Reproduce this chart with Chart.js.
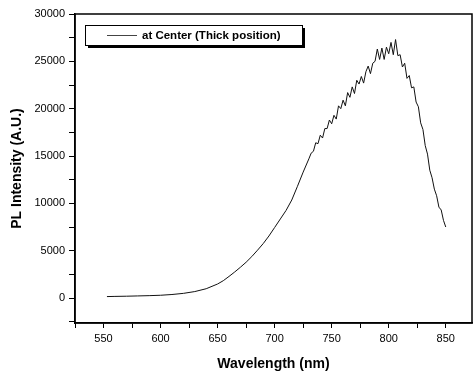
<!DOCTYPE html>
<html>
<head>
<meta charset="utf-8">
<script src="https://cdn.jsdelivr.net/npm/chart.js@4.4.0/dist/chart.umd.min.js"></script>
<style>
  html, body { margin: 0; padding: 0; background: #fff; }
  #wrap { width: 473px; height: 374px; }
</style>
</head>
<body>
<div id="wrap"><canvas id="plChart" width="473" height="374"></canvas></div>
<script>
/* =========================
   DATA
========================= */
const seriesLabel = "at Center (Thick position)";

const wavelength = [
  553, 560, 570, 580, 590, 600, 610, 620, 630, 640,
  650, 655, 660, 665, 670, 675, 680, 685, 690, 695,
  700, 705, 710, 715, 720, 725, 730,
  732, 734, 736, 738, 740, 742, 744, 746, 748, 750,
  752, 754, 756, 758, 760, 762, 764, 766, 768, 770,
  772, 774, 776, 778, 780, 782, 784, 786, 788, 790,
  792, 794, 796, 798, 800, 802, 804, 806, 808, 810,
  812, 814, 816, 818, 820, 822, 824, 826, 828, 830,
  832, 834, 836, 838, 840, 842, 844, 846, 848, 850
];

const intensity = [
  150, 170, 190, 220, 250, 290, 370, 490, 680, 980,
  1480, 1830, 2280, 2750, 3250, 3780, 4380, 5050, 5750, 6550,
  7450, 8350, 9250, 10350, 11800, 13300, 14700,
  15300, 15500, 16400, 16300, 17200, 16900, 17900, 17900, 18800, 18400,
  19300, 18900, 20300, 20000, 20900, 20300, 21700, 21200, 22300, 21600,
  23000, 22600, 23400, 22700, 23900, 24500, 23700, 24800, 25000, 26300,
  25200, 26400, 25200, 26500, 25800, 27000, 25700, 27300, 25600, 25700,
  24400, 24800, 23200, 23500, 22200, 22300, 20700, 20200, 18500, 17800,
  16100, 15200, 13500, 12700, 11500, 10800, 9600, 9300, 8200, 7500
];

const xRange = [525, 873];
const yRange = [-2640, 30000];
const xLabelStep = 50, xMinorStep = 25;
const yLabelStep = 5000, yMinorStep = 2500;

// tick list on round steps inside the axis range
function stepTicks(min, max, step) {
  const out = [];
  for (let v = Math.ceil(min / step) * step; v <= max; v += step) out.push({ value: v });
  return out;
}

/* =========================
   PLUGINS
========================= */
const frame = {
  id: "frame",
  afterDatasetsDraw(chart) {
    const { ctx, chartArea: a } = chart;
    ctx.save();
    ctx.strokeStyle = "#000";
    ctx.lineWidth = 1.5;
    ctx.strokeRect(a.left, a.top, a.right - a.left, a.bottom - a.top);
    ctx.restore();
  }
};

const boxLegend = {
  id: "boxLegend",
  afterDraw(chart) {
    const { ctx } = chart;
    const x = 85, y = 25, w = 217, h = 20;
    ctx.save();
    ctx.fillStyle = "#000";
    ctx.fillRect(x + 3, y + 3, w, h);
    ctx.fillStyle = "#fff";
    ctx.fillRect(x, y, w, h);
    ctx.strokeStyle = "#000";
    ctx.lineWidth = 1;
    ctx.strokeRect(x + 0.5, y + 0.5, w, h);

    ctx.strokeStyle = "#444";
    ctx.beginPath();
    ctx.moveTo(107, 35.5);
    ctx.lineTo(137, 35.5);
    ctx.stroke();

    ctx.fillStyle = "#000";
    ctx.font = "bold 11.5px 'Liberation Sans', Arial, sans-serif";
    ctx.textBaseline = "middle";
    ctx.fillText(chart.data.datasets[0].label, 142, 35.5);
    ctx.restore();
  }
};

/* =========================
   CHART
========================= */
const tickFont = { family: "'Liberation Sans', Arial, sans-serif", size: 11 };
const titleFont = { family: "'Liberation Sans', Arial, sans-serif", size: 14, weight: "bold" };

new Chart(document.getElementById("plChart"), {
  type: "line",
  data: {
    datasets: [{
      label: seriesLabel,
      data: wavelength.map((w, i) => ({ x: w, y: intensity[i] })),
      borderColor: "#111",
      borderWidth: 1,
      pointRadius: 0,
      tension: 0,
      fill: false
    }]
  },
  options: {
    responsive: false,
    animation: false,
    layout: { padding: { top: 14, right: 1, left: 0, bottom: 0 } },
    plugins: {
      legend: { display: false },
      tooltip: { enabled: false }
    },
    scales: {
      x: {
        type: "linear",
        min: xRange[0],
        max: xRange[1],
        afterFit: s => { s.height = 51; },
        afterBuildTicks: s => { s.ticks = stepTicks(xRange[0], xRange[1], xMinorStep); },
        ticks: {
          autoSkip: false,
          maxRotation: 0,
          padding: 4,
          color: "#000",
          font: tickFont,
          callback: v => (v % xLabelStep === 0 ? v : "")
        },
        grid: { drawOnChartArea: false, tickLength: 5, color: "#000", tickWidth: 1 },
        border: { display: true, color: "#000", width: 1.5 },
        title: {
          display: true,
          text: "Wavelength (nm)",
          color: "#000",
          font: titleFont,
          padding: { top: 0, bottom: 1 }
        }
      },
      y: {
        min: yRange[0],
        max: yRange[1],
        afterFit: s => { s.width = 75; },
        afterBuildTicks: s => { s.ticks = stepTicks(yRange[0], yRange[1], yMinorStep); },
        ticks: {
          autoSkip: false,
          padding: 4,
          color: "#000",
          font: tickFont,
          callback: v => (v % yLabelStep === 0 ? v : "")
        },
        grid: { drawOnChartArea: false, tickLength: 6, color: "#000", tickWidth: 1 },
        border: { display: true, color: "#000", width: 1.5 },
        title: {
          display: true,
          text: "PL Intensity (A.U.)",
          color: "#000",
          font: titleFont,
          padding: { top: 9, bottom: 0 }
        }
      }
    }
  },
  plugins: [frame, boxLegend]
});
</script>
</body>
</html>
